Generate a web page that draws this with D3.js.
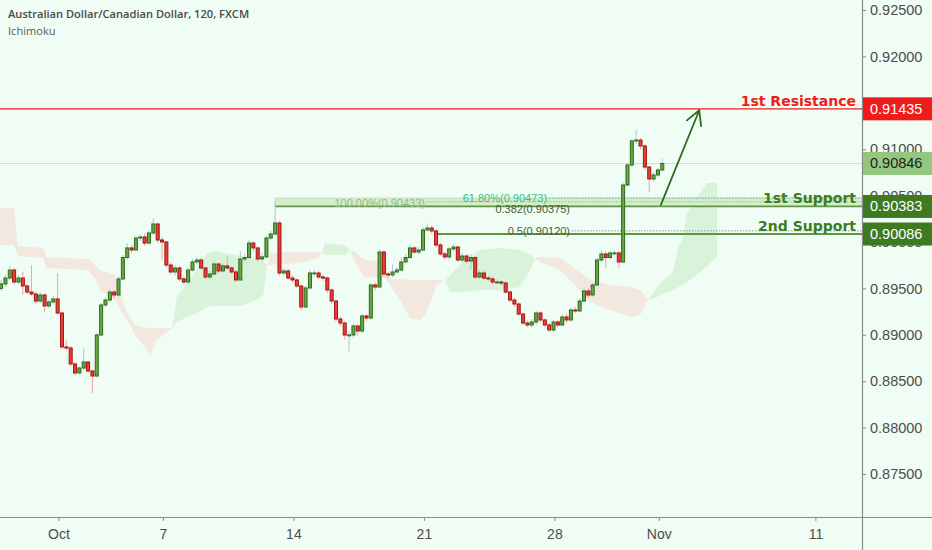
<!DOCTYPE html>
<html><head><meta charset="utf-8">
<script src="https://cdn.jsdelivr.net/npm/d3@7"></script>
<style>
html,body{margin:0;padding:0;background:#effdf4;}
svg{display:block;}
</style></head><body>
<svg id="c" width="932" height="550"></svg>
<script>
// ---------- DATA ----------
const titleText = "Australian Dollar/Canadian Dollar, 120, FXCM";
const indicatorText = "Ichimoku";
const firstDay = -2.2;          // trading-day offset from Oct 1 of first candle
const candlesPerDay = 6;
const firstOpen = 0.89500;
const closes = [
0.89548,0.89612,0.89698,0.89569,0.89612,0.89526,0.89461,0.89440,0.89364,0.89429,
0.89311,0.89354,0.89386,0.89235,0.88869,0.88858,0.88686,0.88589,0.88642,0.88707,
0.88610,0.88556,0.88998,0.89321,0.89375,0.89461,0.89429,0.89602,0.89833,0.89936,
0.89914,0.90043,0.90054,0.89989,0.90097,0.90194,0.90022,0.90000,0.89752,0.89677,
0.89720,0.89602,0.89569,0.89698,0.89785,0.89806,0.89720,0.89623,0.89655,0.89763,
0.89688,0.89742,0.89720,0.89677,0.89591,0.89817,0.89833,0.89989,0.89936,0.89817,
0.89839,0.90043,0.90086,0.90205,0.89666,0.89688,0.89612,0.89591,0.89526,0.89300,
0.89505,0.89666,0.89666,0.89623,0.89612,0.89483,0.89364,0.89170,0.89127,0.88998,
0.88998,0.89095,0.89041,0.89203,0.89181,0.89537,0.89515,0.89892,0.89655,0.89645,
0.89677,0.89698,0.89785,0.89833,0.89936,0.89892,0.89914,0.90130,0.90151,0.90119,
0.89968,0.89871,0.89839,0.89925,0.89946,0.89806,0.89849,0.89795,0.89833,0.89623,
0.89666,0.89612,0.89602,0.89569,0.89569,0.89558,0.89461,0.89375,0.89332,0.89224,
0.89127,0.89106,0.89138,0.89235,0.89160,0.89106,0.89052,0.89138,0.89106,0.89192,
0.89160,0.89267,0.89257,0.89364,0.89472,0.89429,0.89537,0.89806,0.89871,0.89833,
0.89882,0.89882,0.89785,0.90614,0.90830,0.91089,0.91099,0.91035,0.90808,0.90679,
0.90722,0.90776,0.90846];
const highs = [
0.89590,0.89650,0.89740,0.89720,0.89640,0.89680,0.89550,0.89750,0.89470,0.89460,
0.89445,0.89380,0.89420,0.89666,0.89250,0.88940,0.88880,0.88700,0.88660,0.88860,
0.88720,0.88630,0.89020,0.89340,0.89400,0.89490,0.89480,0.89630,0.89860,0.89990,
0.89970,0.90070,0.90080,0.90090,0.90130,0.90250,0.90210,0.90050,0.90010,0.89780,
0.89750,0.89740,0.89630,0.89720,0.89820,0.89840,0.89830,0.89740,0.89690,0.89790,
0.89780,0.89770,0.89850,0.89740,0.89700,0.89900,0.89870,0.90020,0.90010,0.89950,
0.89880,0.90070,0.90120,0.90433,0.90230,0.89720,0.89710,0.89640,0.89610,0.89540,
0.89530,0.89700,0.89700,0.89690,0.89650,0.89630,0.89500,0.89380,0.89200,0.89140,
0.89030,0.89120,0.89110,0.89230,0.89220,0.89560,0.89570,0.89920,0.89910,0.89680,
0.89760,0.89730,0.89830,0.89870,0.89970,0.89960,0.89950,0.90160,0.90200,0.90180,
0.90140,0.89990,0.89900,0.89950,0.89980,0.89960,0.89880,0.89870,0.89870,0.89850,
0.89700,0.89690,0.89640,0.89630,0.89600,0.89590,0.89580,0.89480,0.89400,0.89350,
0.89240,0.89150,0.89170,0.89260,0.89250,0.89180,0.89130,0.89160,0.89160,0.89220,
0.89230,0.89290,0.89300,0.89390,0.89500,0.89500,0.89560,0.89830,0.89910,0.89900,
0.89900,0.89910,0.89900,0.90640,0.90850,0.91110,0.91207,0.91120,0.91050,0.90820,
0.90750,0.90800,0.90900];
const lows = [
0.89470,0.89520,0.89590,0.89540,0.89545,0.89430,0.89440,0.89420,0.89330,0.89340,
0.89240,0.89290,0.89330,0.89210,0.88840,0.88830,0.88660,0.88560,0.88570,0.88620,
0.88590,0.88373,0.88540,0.88980,0.89300,0.89350,0.89390,0.89410,0.89590,0.89810,
0.89880,0.89900,0.90010,0.89960,0.89970,0.90080,0.89990,0.89800,0.89720,0.89650,
0.89640,0.89580,0.89540,0.89550,0.89680,0.89760,0.89700,0.89600,0.89600,0.89640,
0.89660,0.89670,0.89700,0.89650,0.89570,0.89580,0.89790,0.89810,0.89900,0.89790,
0.89790,0.89820,0.90020,0.90070,0.89640,0.89640,0.89590,0.89560,0.89500,0.89260,
0.89280,0.89490,0.89630,0.89600,0.89580,0.89450,0.89330,0.89140,0.89090,0.88950,
0.88815,0.88970,0.88990,0.89020,0.89150,0.89160,0.89480,0.89500,0.89630,0.89610,
0.89620,0.89660,0.89680,0.89770,0.89820,0.89870,0.89870,0.89900,0.90110,0.90090,
0.89940,0.89850,0.89810,0.89810,0.89900,0.89780,0.89780,0.89770,0.89700,0.89600,
0.89600,0.89590,0.89580,0.89540,0.89540,0.89530,0.89440,0.89350,0.89300,0.89200,
0.89100,0.89080,0.89080,0.89110,0.89130,0.89080,0.89030,0.89030,0.89080,0.89090,
0.89130,0.89140,0.89230,0.89240,0.89350,0.89400,0.89410,0.89520,0.89780,0.89720,
0.89810,0.89850,0.89720,0.89770,0.90600,0.90810,0.91060,0.91000,0.90780,0.90539,
0.90650,0.90700,0.90760];
// Ichimoku cloud (Senkou span A / B), sampled along the trading-day axis
const cloudDays = [-2.24,-1.71,-1.55,-0.59,-0.48,1.13,1.40,1.59,2.17,2.36,2.63,2.93,3.24,3.51,3.77,4.27,4.35,
4.54,4.92,5.31,5.69,6.00,6.38,6.95,7.57,7.84,7.99,8.03,
8.10,9.25,9.94,10.10,10.21,10.98,11.17,
11.36,11.74,12.51,12.70,13.08,13.47,13.85,14.04,14.31,14.50,14.81,
15.00,15.57,16.15,16.92,17.68,18.07,18.26,
18.45,19.22,19.60,20.36,21.13,21.90,22.28,22.59,
22.85,23.16,23.54,23.74,23.89,24.08,24.46,24.85,25.23];
const spanA = [0.89968,0.89968,0.89849,0.89828,0.89720,0.89699,0.89612,0.89483,0.89375,0.89267,0.89160,0.88998,0.88890,0.88783,0.88944,0.89052,0.89073,
0.89408,0.89558,0.89699,0.89882,0.89903,0.89882,0.89849,0.89828,0.89785,0.89763,0.89752,
0.89752,0.89774,0.89828,0.89892,0.89989,0.89968,0.89914,
0.89785,0.89623,0.89612,0.89537,0.89375,0.89181,0.89160,0.89214,0.89397,0.89548,0.89580,
0.89645,0.89806,0.89914,0.89936,0.89914,0.89860,0.89828,
0.89785,0.89699,0.89591,0.89354,0.89267,0.89192,0.89214,0.89375,
0.89483,0.89591,0.89666,0.89946,0.90022,0.90313,0.90485,0.90636,0.90636];
const spanB = [0.90367,0.90367,0.89957,0.89936,0.89839,0.89817,0.89752,0.89699,0.89645,0.89461,0.89235,0.89106,0.89084,0.89073,0.89073,0.89073,0.89073,
0.89138,0.89192,0.89235,0.89300,0.89311,0.89311,0.89311,0.89375,0.89429,0.89742,0.89752,
0.89882,0.89892,0.89892,0.89892,0.89860,0.89860,0.89914,
0.89892,0.89806,0.89785,0.89602,0.89602,0.89591,0.89591,0.89591,0.89591,0.89591,0.89580,
0.89461,0.89461,0.89483,0.89483,0.89515,0.89699,0.89828,
0.89839,0.89828,0.89752,0.89591,0.89537,0.89515,0.89483,0.89375,
0.89397,0.89440,0.89483,0.89515,0.89537,0.89569,0.89645,0.89742,0.89839];
const priceTicks = [0.925,0.92,0.915,0.91,0.905,0.90,0.895,0.89,0.885,0.88,0.875];
const dayTicks = [0,4,9,14,19,23,29];
const dayTickLabels = ["Oct","7","14","21","28","Nov","11"];
const resistance1 = 0.91435, support1 = 0.90383, support2 = 0.90086, lastPrice = 0.90846;
const levelNames = ["1st Resistance","1st Support","2nd Support"];
const fibHigh = 0.90433, fib618 = 0.90473, fib382 = 0.90375, fib50 = 0.90120;
const fibLabels = ["100.00%(0.90433)","61.80%(0.90473)","0.382(0.90375)","0.5(0.90120)"];
const fibStartCandle = 63, support2StartCandle = 100;
const fibLabelEndDays = [14.04, 18.72, 19.60, 19.60];
const arrowFrom = {day: 23.08, price: 0.90400};
const arrowTo = {day: 24.55, price: 0.91420};

// ---------- LAYOUT ----------
const W = 932, H = 550, plotR = 862, plotB = 517;
const svg = d3.select("#c");
const x = d3.scaleLinear().domain([0, 29]).range([58.5, 815.4]);
const y = d3.scaleLinear().domain([0.875, 0.925]).range([474, 10]);
const axisFont = "'Liberation Sans', Arial, sans-serif";
const dayOf = i => firstDay + i / candlesPerDay;

svg.append("rect").attr("width", W).attr("height", H).attr("fill", "#effdf4");
svg.append("clipPath").attr("id", "plot").append("rect").attr("width", plotR).attr("height", plotB);
const g = svg.append("g").attr("clip-path", "url(#plot)");

// Cloud
const cloud = cloudDays.map((d, i) => ({d, a: spanA[i], b: spanB[i]}));
let runs = [], cur = null;
for (let i = 0; i < cloud.length - 1; i++) {
  const bull = (cloud[i].a + cloud[i + 1].a) >= (cloud[i].b + cloud[i + 1].b);
  if (!cur || cur.bull !== bull) { cur = {bull, pts: [cloud[i]]}; runs.push(cur); }
  cur.pts.push(cloud[i + 1]);
}
const area = d3.area().x(d => x(d.d)).y0(d => y(d.a)).y1(d => y(d.b));
g.selectAll("path.cloud").data(runs).join("path").attr("class", "cloud")
  .attr("d", r => area(r.pts))
  .attr("fill", r => r.bull ? "#d9f3db" : "#f3e8e0");

// Current price line
g.append("line").attr("x1", 0).attr("x2", plotR).attr("y1", y(lastPrice)).attr("y2", y(lastPrice))
  .attr("stroke", "#c9e6c2").attr("stroke-width", 1.2);

// Fib band & lines
const fibX0 = x(dayOf(fibStartCandle));
g.append("rect").attr("x", fibX0).attr("y", y(fib618)).attr("width", plotR - fibX0)
  .attr("height", y(support1) - y(fib618)).attr("fill", "#d6eccd").attr("stroke", "#c3dfb8").attr("stroke-width", 1);
const fx = fibLabelEndDays.map(d => x(d));
g.append("line").attr("x1", fx[0] + 2).attr("x2", plotR).attr("y1", y(fibHigh)).attr("y2", y(fibHigh))
  .attr("stroke", "#9cc28f").attr("stroke-dasharray", "1.5,1.5");
g.append("line").attr("x1", fx[1] + 2).attr("x2", plotR).attr("y1", y(fib618)).attr("y2", y(fib618))
  .attr("stroke", "#4fc693").attr("stroke-dasharray", "1.5,1.5");
g.append("line").attr("x1", fx[3] + 2).attr("x2", plotR).attr("y1", y(fib50)).attr("y2", y(fib50))
  .attr("stroke", "#8c9a88").attr("stroke-dasharray", "1.5,1.5");
g.append("line").attr("x1", fibX0).attr("x2", plotR).attr("y1", y(support1)).attr("y2", y(support1))
  .attr("stroke", "#5e9646").attr("stroke-width", 1.8);
const s2x = x(dayOf(support2StartCandle));
g.append("line").attr("x1", s2x).attr("x2", plotR).attr("y1", y(support2)).attr("y2", y(support2))
  .attr("stroke", "#5e9646").attr("stroke-width", 1.8);

const fibFont = "'Liberation Sans', Arial, sans-serif";
const fibColors = ["#8fba80", "#3dbb88", "#4a5e3c", "#4a5e3c"];
const fibLv = [fibHigh, fib618, fib382, fib50];
const fibDy = [1, 0, 1.5, 0];
fibLabels.forEach((t, i) => {
  g.append("text").attr("x", fx[i]).attr("y", y(fibLv[i]) + fibDy[i]).attr("text-anchor", "end")
    .attr("dominant-baseline", "central").attr("font-family", fibFont).attr("font-size", 11)
    .attr("fill", fibColors[i]).text(t);
});

// Resistance line
g.append("line").attr("x1", 0).attr("x2", plotR).attr("y1", y(resistance1)).attr("y2", y(resistance1))
  .attr("stroke", "#f01c1c").attr("stroke-width", 1.2);

// Candles
const candles = closes.map((c, i) => ({
  d: dayOf(i), o: i ? closes[i - 1] : firstOpen, c, h: highs[i], l: lows[i]
}));
const bw = 3;
g.selectAll("line.wick").data(candles).join("line").attr("class", "wick")
  .attr("x1", d => x(d.d)).attr("x2", d => x(d.d))
  .attr("y1", d => y(d.h)).attr("y2", d => y(d.l))
  .attr("stroke", d => d.c >= d.o ? "#a9c8cf" : "#f3a3a3").attr("stroke-width", 1);
g.selectAll("rect.body").data(candles).join("rect").attr("class", "body")
  .attr("x", d => x(d.d) - bw / 2)
  .attr("y", d => y(Math.max(d.o, d.c)))
  .attr("width", bw)
  .attr("height", d => Math.max(0.8, Math.abs(y(d.o) - y(d.c))))
  .attr("fill", d => d.c >= d.o ? "#67a64b" : "#e5403b")
  .attr("stroke", d => d.c >= d.o ? "#2f6b18" : "#a11414").attr("stroke-width", 1);

// Arrow
const ax0 = x(arrowFrom.day), ay0 = y(arrowFrom.price), ax1 = x(arrowTo.day), ay1 = y(arrowTo.price);
const ang = Math.atan2(ay1 - ay0, ax1 - ax0), hl = 16, ha = 0.5;
g.append("path").attr("d",
  `M${ax0},${ay0}L${ax1},${ay1}M${ax1 - hl * Math.cos(ang - ha)},${ay1 - hl * Math.sin(ang - ha)}L${ax1},${ay1}L${ax1 - hl * Math.cos(ang + ha)},${ay1 - hl * Math.sin(ang + ha)}`)
  .attr("fill", "none").attr("stroke", "#2e6a1a").attr("stroke-width", 1.8).attr("stroke-linecap", "round");

// Level texts
const lvlFont = "'DejaVu Sans', sans-serif";
[[resistance1, "#f01c1c"], [support1, "#3d7a22"], [support2, "#3d7a22"]].forEach(([p, col], i) => {
  svg.append("text").attr("x", plotR - 6).attr("y", y(p) - 3).attr("text-anchor", "end")
    .attr("font-family", lvlFont).attr("font-weight", "bold").attr("font-size", 14)
    .attr("fill", col).text(levelNames[i]);
});

// Title
svg.append("text").attr("x", 8).attr("y", 18).attr("font-family", "'Open Sans', sans-serif")
  .attr("font-size", 11.1).attr("font-weight", 600).attr("fill", "#4a4a4a").text(titleText);
svg.append("text").attr("x", 8).attr("y", 35).attr("font-family", "'Open Sans', sans-serif")
  .attr("font-size", 11.1).attr("fill", "#5a5a5a").text(indicatorText);

// Price boxes (data)
const boxes = [[resistance1, "#f01c1c", "#ffffff"], [lastPrice, "#93c77f", "#1e1e1e"], [support1, "#3d7a22", "#ffffff"], [support2, "#3d7a22", "#ffffff"]];

// Axes
const fmt = d3.format(".5f");
const hiddenByBox = v => boxes.some(([p]) => Math.abs(y(v) - y(p)) < 7);
const yAxis = d3.axisRight(y).tickValues(priceTicks).tickFormat(v => hiddenByBox(v) ? "" : fmt(v)).tickSize(4).tickPadding(4);
const ya = svg.append("g").attr("transform", `translate(${plotR},0)`).call(yAxis);
ya.select(".domain").remove();
ya.selectAll("text").attr("font-family", axisFont).attr("font-size", 14.5).attr("fill", "#4d4d4d");
ya.selectAll("line").attr("stroke", "#8a8a8a");
const xAxis = d3.axisBottom(x).tickValues(dayTicks).tickFormat((d, i) => dayTickLabels[i]).tickSize(4).tickPadding(8);
const xa = svg.append("g").attr("transform", `translate(0,${plotB})`).call(xAxis);
xa.select(".domain").remove();
xa.selectAll("text").attr("font-family", axisFont).attr("font-size", 14).attr("fill", "#4d4d4d");
xa.selectAll("line").attr("stroke", "#8a8a8a");
svg.append("line").attr("x1", 0).attr("x2", W).attr("y1", plotB + 0.5).attr("y2", plotB + 0.5).attr("stroke", "#8a8a8a").attr("stroke-width", 1.2);
svg.append("line").attr("x1", plotR + 0.5).attr("x2", plotR + 0.5).attr("y1", 0).attr("y2", H).attr("stroke", "#8a8a8a").attr("stroke-width", 1.2);

boxes.forEach(([p, bg, fg]) => {
  svg.append("rect").attr("x", plotR + 1).attr("y", y(p) - 11.5).attr("width", W - plotR).attr("height", 23).attr("fill", bg);
  svg.append("text").attr("x", plotR + 8).attr("y", y(p)).attr("dominant-baseline", "central")
    .attr("font-family", axisFont).attr("font-size", 14.5).attr("fill", fg).text(fmt(p));
});
</script>
</body></html>
